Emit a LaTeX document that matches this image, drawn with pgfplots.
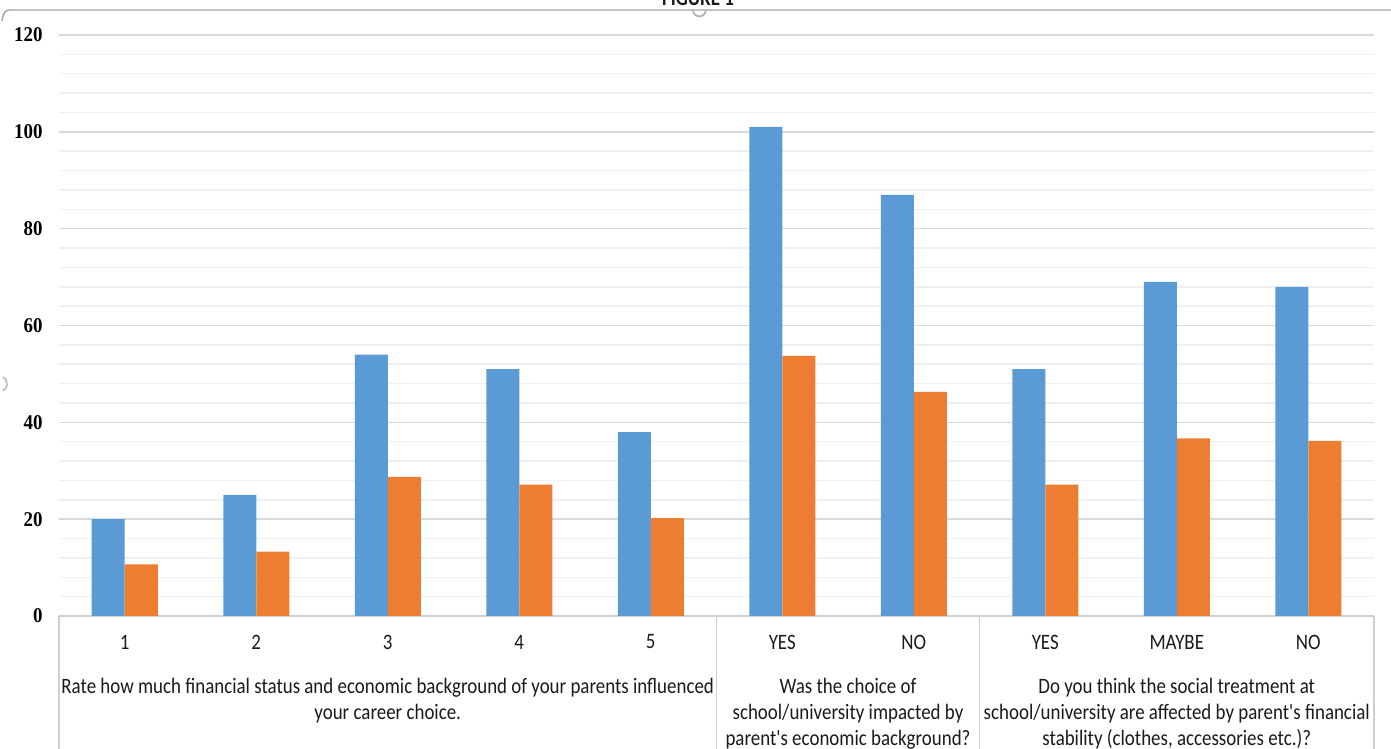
\documentclass[border=0pt]{standalone}
\usepackage{pgfplots}
\usepackage{pgfplotstable}
\pgfplotsset{compat=1.18}
\usepackage{fontspec}
\setmainfont{Carlito}
\newfontfamily\catfont[FakeStretch=0.86]{Carlito}
\newfontfamily\numfont[FakeStretch=0.9]{Liberation Serif}

\definecolor{barblue}{HTML}{5B9BD5}
\definecolor{barorange}{HTML}{ED7D31}
\definecolor{majgrid}{HTML}{D9D9D9}
\definecolor{mingrid}{HTML}{F0F0F0}
\definecolor{boxline}{HTML}{CFCFCF}
\definecolor{labeltext}{HTML}{1A1A1A}

% responses (count) and share of the 188 answers (percent)
\pgfplotstableread{
x count share
0 20  10.64
1 25  13.30
2 54  28.72
3 51  27.13
4 38  20.21
5 101 53.72
6 87  46.28
7 51  27.13
8 69  36.70
9 68  36.17
}\responses

\begin{document}
\begin{tikzpicture}
\useasboundingbox (0,0) rectangle (695.5pt,374.5pt);
% chart frame with its title
\node[font=\catfont\bfseries\fontsize{11}{13}\selectfont, anchor=base, text=labeltext] at (349pt,371.5pt) {FIGURE 1};
\draw[gray!75, line width=0.7pt] (1pt,364pt) to[out=80,in=180] (4.5pt,369.5pt) -- (695.5pt,369.5pt);
\draw[gray!60, line width=0.9pt] (346.5pt,369.5pt) arc (180:360:3.2pt);
\draw[gray!50, line width=0.9pt] (1.5pt,186pt) arc (60:-60:4pt);

\begin{axis}[
  at={(29.5pt,66.5pt)}, anchor=south west,
  width=657.5pt, height=290.5pt, scale only axis,
  xmin=-0.5, xmax=9.5, ymin=0, ymax=120,
  ybar=0pt, bar width=16.5pt,
  ytick={0,20,...,120}, minor tick num=4,
  ymajorgrids, yminorgrids,
  major grid style={draw=majgrid, line width=0.75pt},
  minor grid style={draw=mingrid, line width=0.75pt},
  axis line style={draw=none},
  major tick length=0pt, minor tick length=0pt,
  tick style={draw=none},
  xtick={0,...,9},
  xticklabels={1,2,3,4,5,YES,NO,YES,MAYBE,NO},
  xticklabel style={font=\catfont\fontsize{11}{13}\selectfont, anchor=center, yshift=-13pt, text=labeltext},
  /pgf/number format/assume math mode=true,
  yticklabel style={font=\numfont\bfseries\fontsize{10.5}{12}\selectfont, anchor=east, inner sep=0pt, xshift=-8pt},
  clip=false,
]
% category box under the axis
\draw[boxline, line width=0.8pt] (axis cs:-0.5,0) -- (axis cs:9.5,0);
\draw[boxline, line width=0.8pt] (axis cs:-0.5,0) -- ([yshift=-70pt]axis cs:-0.5,0);
\draw[boxline, line width=0.8pt] (axis cs:4.5,0) -- ([yshift=-70pt]axis cs:4.5,0);
\draw[boxline, line width=0.8pt] (axis cs:6.5,0) -- ([yshift=-70pt]axis cs:6.5,0);
\draw[boxline, line width=0.8pt] (axis cs:9.5,0) -- ([yshift=-70pt]axis cs:9.5,0);

\addplot[fill=barblue, draw=none] table[x=x, y=count] {\responses};
\addplot[fill=barorange, draw=none] table[x=x, y=share] {\responses};

\begin{scope}[every node/.style={font=\catfont\fontsize{11}{13}\selectfont, text=labeltext, align=center, anchor=north, inner sep=0pt}]
\node at ([yshift=-31pt]axis cs:2,0) {Rate how much financial status and economic background of your parents influenced\\your career choice.};
\node at ([yshift=-31pt]axis cs:5.5,0) {Was the choice of\\school/university impacted by\\parent's economic background?};
\node at ([yshift=-31pt]axis cs:8,0) {Do you think the social treatment at\\school/university are affected by parent's financial\\stability (clothes, accessories etc.)?};
\end{scope}
\end{axis}
\end{tikzpicture}
\end{document}
